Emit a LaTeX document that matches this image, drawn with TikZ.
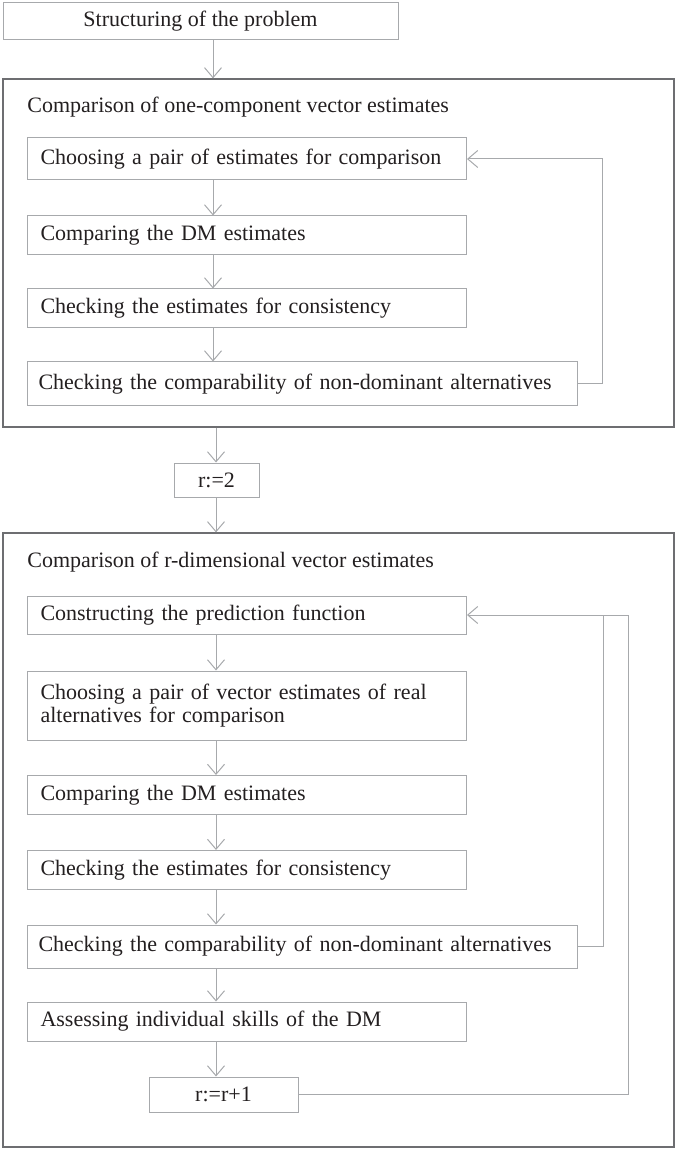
\documentclass[tikz,border=0pt]{standalone}
\usepackage{fontspec}
\setmainfont{Liberation Serif}
\usetikzlibrary{arrows.meta}
\definecolor{boxgray}{HTML}{A7A9AC}
\definecolor{framegray}{HTML}{6D6E71}
\definecolor{inkgray}{HTML}{231F20}

\begin{document}
\begin{tikzpicture}[x=0.5pt, y=-0.5pt, font=\fontsize{11}{11.5}\selectfont, text=inkgray,
		stepbox/.style={draw=boxgray, line width=0.5pt, anchor=west, align=left, inner xsep=6.5pt, inner ysep=0pt, minimum height=19.5pt},
		shortbox/.style={stepbox, text width=206.5pt},
		longbox/.style={stepbox, inner xsep=5.5pt, text width=264pt},
		assign/.style={draw=boxgray, line width=0.5pt, inner sep=0pt, minimum height=17pt},
		frame/.style={draw=framegray, line width=0.6pt, inner sep=0pt, minimum width=335.5pt},
		title/.style={anchor=west, inner sep=0pt},
		arr/.style={draw=boxgray, line width=0.5pt, -{Straight Barb[length=5pt,width=8.5pt]}},
		loop/.style={draw=boxgray, line width=0.5pt}]

	\useasboundingbox (0,0) rectangle (676,1149);

	\node[assign, minimum width=197.5pt, minimum height=18.5pt] (prob) at (200.5,21.5) {Structuring of the problem};

	% one-component estimates
	\node[frame, minimum height=174pt] (blockA) at (338.5,253) {};
	\node[title] (titleA) at (27,107) {Comparison of one-component vector estimates};
	\node[shortbox, minimum height=21pt] (a1) at (27,159) {Choosing a pair of estimates for comparison};
	\node[shortbox] (a2) at (27,235.5) {Comparing the DM estimates};
	\node[shortbox] (a3) at (27,308.5) {Checking the estimates for consistency};
	\node[longbox, minimum height=22pt] (a4) at (27,384) {Checking the comparability of non-dominant alternatives};

	\coordinate (colA) at (213,0);
	\draw[arr] (prob.south -| colA) -- (blockA.north -| colA);
	\foreach \i/\j in {a1/a2,a2/a3,a3/a4}
		\draw[arr] (\i.south -| colA) -- (\j.north -| colA);
	\draw[arr] (a4.east) -- ++(24,0) |- (a1.east);

	\node[assign, minimum width=42.5pt] (rtwo) at (216.5,480) {r:=2};

	% r-dimensional estimates
	\node[frame, minimum height=307pt] (blockB) at (338.5,840) {};
	\node[title] (titleB) at (27,562) {Comparison of r-dimensional vector estimates};
	\node[shortbox, minimum height=19pt] (b1) at (27,615) {Constructing the prediction function};
	\node[shortbox, minimum height=34.5pt] (b2) at (27,705.5) {Choosing a pair of vector estimates of real\\alternatives for comparison};
	\node[shortbox] (b3) at (27,795) {Comparing the DM estimates};
	\node[shortbox] (b4) at (27,870) {Checking the estimates for consistency};
	\node[longbox, minimum height=21.5pt] (b5) at (27,946.5) {Checking the comparability of non-dominant alternatives};
	\node[shortbox] (b6) at (27,1021.5) {Assessing individual skills of the DM};
	\node[assign, minimum width=74.5pt, minimum height=17.5pt] (rnext) at (223.5,1094.5) {r:=r+1};

	\coordinate (colB) at (216,0);
	\draw[arr] (blockA.south -| colB) -- (rtwo.north -| colB);
	\draw[arr] (rtwo.south -| colB) -- (blockB.north -| colB);
	\foreach \i/\j in {b1/b2,b2/b3,b3/b4,b4/b5,b5/b6,b6/rnext}
		\draw[arr] (\i.south -| colB) -- (\j.north -| colB);
	\draw[loop] (b5.east) -- ++(25,0) coordinate (kneeB) -- (kneeB |- b1.east);
	\draw[arr] (rnext.east) -- ++(330,0) |- (b1.east);

\end{tikzpicture}
\end{document}
